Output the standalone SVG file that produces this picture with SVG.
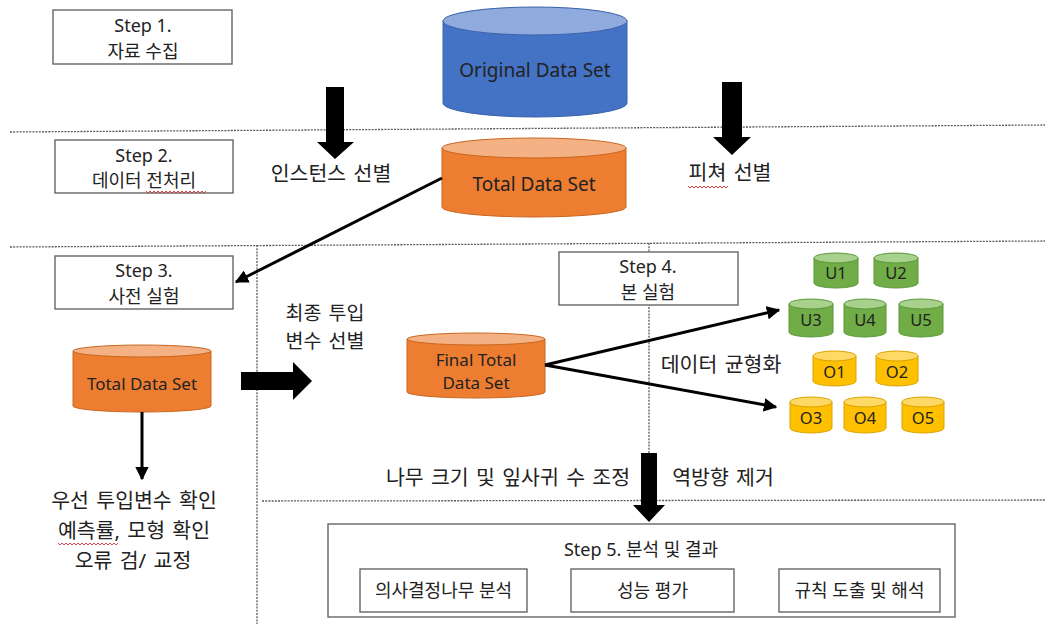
<svg xmlns="http://www.w3.org/2000/svg" width="1045" height="624" viewBox="0 0 1045 624">
  <defs>
    <style>
      text { font-family: "Noto Sans", "Noto Sans CJK KR", sans-serif; fill: #222; text-anchor: middle; }
      .lbl { font-size: 18px; }
      .big { font-size: 20.5px; word-spacing: 2px; }
      .cyl { font-size: 17px; }
      .sm { font-size: 16.5px; }
      .s5 { font-size: 18px; }
      .box { fill: #fff; stroke: #666; stroke-width: 1.4; }
      .dot { fill: none; stroke: #5a5a5a; stroke-width: 1.3; stroke-dasharray: 2 1.2; }
      .conn { fill: none; stroke: #000; stroke-width: 3; }
      .block { fill: #000; }
      .squig { fill: none; stroke: #e03030; stroke-width: 0.9; }
      .blue-b { fill: #4472C4; stroke: #3a62aa; stroke-width: 1; }
      .blue-t { fill: #8FAADC; stroke: #3a62aa; stroke-width: 1; }
      .org-b { fill: #ED7D31; stroke: #c8661f; stroke-width: 1; }
      .org-t { fill: #F4B183; stroke: #c8661f; stroke-width: 1; }
      .grn-b { fill: #70AD47; stroke: #5a9638; stroke-width: 1; }
      .grn-t { fill: #A9D18E; stroke: #5a9638; stroke-width: 1; }
      .yel-b { fill: #FFC000; stroke: #d9a300; stroke-width: 1; }
      .yel-t { fill: #FFD966; stroke: #d9a300; stroke-width: 1; }
    </style>
    <marker id="ah" viewBox="0 0 10 10" refX="9" refY="5" markerWidth="4.5" markerHeight="4.5" orient="auto" markerUnits="strokeWidth">
      <path d="M0,0 L10,5 L0,10 z" fill="#000"/>
    </marker>
  </defs>

  <rect width="1045" height="624" fill="#fff"/>

  <!-- stage separators -->
  <g id="separators">
    <line class="dot" x1="10" y1="132" x2="1045" y2="125"/>
    <line class="dot" x1="10" y1="247" x2="1045" y2="241"/>
    <line class="dot" x1="257" y1="245" x2="257" y2="624"/>
    <line class="dot" x1="262" y1="501" x2="1045" y2="500"/>
    <line class="dot" x1="649" y1="243" x2="649" y2="455"/>
  </g>

  <!-- step labels -->
  <g id="step1">
    <rect class="box" x="53" y="10" width="179" height="54"/>
    <text class="lbl"><tspan x="143" y="32">Step 1.</tspan><tspan x="143" dy="25.5">자료 수집</tspan></text>
  </g>
  <g id="step2">
    <rect class="box" x="55" y="140" width="178" height="53"/>
    <text class="lbl"><tspan x="144" y="161.5">Step 2.</tspan><tspan x="144" dy="25.5">데이터 전처리</tspan></text>
    <path class="squig" d="M146,191 l2,2 l2,-2 l2,2 l2,-2 l2,2 l2,-2 l2,2 l2,-2 l2,2 l2,-2 l2,2 l2,-2 l2,2 l2,-2 l2,2 l2,-2 l2,2 l2,-2 l2,2 l2,-2 l2,2 l2,-2 l2,2 l2,-2 l2,2 l2,-2 l2,2 l2,-2 l2,2 l2,-2"/>
  </g>
  <g id="step3">
    <rect class="box" x="55" y="256" width="178" height="53"/>
    <text class="lbl"><tspan x="144" y="277">Step 3.</tspan><tspan x="144" dy="25.5">사전 실험</tspan></text>
  </g>
  <g id="step4">
    <rect class="box" x="559" y="252" width="179" height="53"/>
    <text class="lbl"><tspan x="648" y="273">Step 4.</tspan><tspan x="648" dy="25.5">본 실험</tspan></text>
  </g>

  <!-- data stores -->
  <g id="original-data">
    <path class="blue-b" d="M443,21 V103 A92,14 0 0 0 627,103 V21 Z"/>
    <ellipse class="blue-t" cx="535" cy="21" rx="92" ry="14"/>
    <text x="535" y="77" style="font-size:19px">Original Data Set</text>
  </g>
  <g id="total-data">
    <path class="org-b" d="M442,148 V207 A92,10 0 0 0 626,207 V148 Z"/>
    <ellipse class="org-t" cx="534" cy="148" rx="92" ry="10"/>
    <text x="534" y="191" style="font-size:19px">Total Data Set</text>
  </g>
  <g id="total-data-step3">
    <path class="org-b" d="M73,351 V406 A69,6 0 0 0 211,406 V351 Z"/>
    <ellipse class="org-t" cx="142" cy="351" rx="69" ry="6"/>
    <text class="cyl" x="142" y="390">Total Data Set</text>
  </g>
  <g id="final-data">
    <path class="org-b" d="M407,339 V392 A69,6 0 0 0 545,392 V339 Z"/>
    <ellipse class="org-t" cx="476" cy="339" rx="69" ry="6"/>
    <text class="cyl"><tspan x="476" y="365.5">Final Total</tspan><tspan x="476" dy="23.5">Data Set</tspan></text>
  </g>

  <!-- balanced subsets -->
  <g id="u1"><path class="grn-b" d="M814,258 V283 A22,5 0 0 0 858,283 V258 Z"/><ellipse class="grn-t" cx="836" cy="258" rx="22" ry="5"/><text class="sm" x="836" y="279">U1</text></g>
  <g id="u2"><path class="grn-b" d="M874,258 V283 A22,5 0 0 0 918,283 V258 Z"/><ellipse class="grn-t" cx="896" cy="258" rx="22" ry="5"/><text class="sm" x="896" y="279">U2</text></g>
  <g id="u3"><path class="grn-b" d="M789,304 V332 A22,5 0 0 0 833,332 V304 Z"/><ellipse class="grn-t" cx="811" cy="304" rx="22" ry="5"/><text class="sm" x="811" y="326">U3</text></g>
  <g id="u4"><path class="grn-b" d="M844,304 V332 A21,5 0 0 0 886,332 V304 Z"/><ellipse class="grn-t" cx="865" cy="304" rx="21" ry="5"/><text class="sm" x="865" y="326">U4</text></g>
  <g id="u5"><path class="grn-b" d="M899,304 V332 A22,5 0 0 0 943,332 V304 Z"/><ellipse class="grn-t" cx="921" cy="304" rx="22" ry="5"/><text class="sm" x="921" y="326">U5</text></g>
  <g id="o1"><path class="yel-b" d="M813,356 V381 A21.5,5 0 0 0 856,381 V356 Z"/><ellipse class="yel-t" cx="834.5" cy="356" rx="21.5" ry="5"/><text class="sm" x="834.5" y="378">O1</text></g>
  <g id="o2"><path class="yel-b" d="M876,356 V381 A21,5 0 0 0 918,381 V356 Z"/><ellipse class="yel-t" cx="897" cy="356" rx="21" ry="5"/><text class="sm" x="897" y="378">O2</text></g>
  <g id="o3"><path class="yel-b" d="M790,402 V428 A21,5 0 0 0 832,428 V402 Z"/><ellipse class="yel-t" cx="811" cy="402" rx="21" ry="5"/><text class="sm" x="811" y="424">O3</text></g>
  <g id="o4"><path class="yel-b" d="M844,402 V428 A21,5 0 0 0 886,428 V402 Z"/><ellipse class="yel-t" cx="865" cy="402" rx="21" ry="5"/><text class="sm" x="865" y="424">O4</text></g>
  <g id="o5"><path class="yel-b" d="M902,402 V428 A21,5 0 0 0 944,428 V402 Z"/><ellipse class="yel-t" cx="923" cy="402" rx="21" ry="5"/><text class="sm" x="923" y="424">O5</text></g>

  <!-- free-standing labels -->
  <g id="notes">
    <text class="big" x="331" y="181">인스턴스 선별</text>
    <text class="big" x="730" y="180">피쳐 선별</text>
    <path class="squig" d="M688,186 l2,2 l2,-2 l2,2 l2,-2 l2,2 l2,-2 l2,2 l2,-2 l2,2 l2,-2 l2,2 l2,-2 l2,2 l2,-2 l2,2 l2,-2 l2,2 l2,-2 l2,2 l2,-2"/>
    <text class="big" style="font-size:19.5px"><tspan x="325" y="320">최종 투입</tspan><tspan x="325" dy="28">변수 선별</tspan></text>
    <text class="big" x="721" y="372">데이터 균형화</text>
    <text class="big" x="508" y="485">나무 크기 및 잎사귀 수 조정</text>
    <text class="big" x="723" y="485">역방향 제거</text>
    <text class="big"><tspan x="134" y="508">우선 투입변수 확인</tspan><tspan x="134" dy="30">예측률, 모형 확인</tspan><tspan x="133" dy="30">오류 검/ 교정</tspan></text>
    <path class="squig" d="M58,543 l2,2 l2,-2 l2,2 l2,-2 l2,2 l2,-2 l2,2 l2,-2 l2,2 l2,-2 l2,2 l2,-2 l2,2 l2,-2 l2,2 l2,-2 l2,2 l2,-2 l2,2 l2,-2 l2,2 l2,-2 l2,2 l2,-2 l2,2 l2,-2 l2,2 l2,-2 l2,2 l2,-2"/>
  </g>

  <!-- step 5 results -->
  <g id="step5">
    <rect class="box" x="328" y="524" width="627" height="93"/>
    <text class="s5" x="641" y="556">Step 5. 분석 및 결과</text>
    <rect class="box" x="360" y="569" width="167" height="43"/>
    <text class="s5" x="443.5" y="597">의사결정나무 분석</text>
    <rect class="box" x="571" y="569" width="163" height="43"/>
    <text class="s5" x="652.5" y="597">성능 평가</text>
    <rect class="box" x="779" y="569" width="161" height="43"/>
    <text class="s5" x="859.5" y="597">규칙 도출 및 해석</text>
  </g>

  <!-- connectors -->
  <g id="connectors">
    <polygon class="block" points="326,87 344,87 344,142 354,142 335,159 317,142 326,142"/>
    <polygon class="block" points="722,82 742,82 742,137 751,137 732,155 713,137 722,137"/>
    <polygon class="block" points="241,372 293,372 293,362 312,381 293,400 293,390 241,390"/>
    <polygon class="block" points="641,453 657,453 657,505 665,505 649,522 633,505 641,505"/>
    <line class="conn" x1="442" y1="178" x2="236" y2="282" marker-end="url(#ah)"/>
    <line class="conn" x1="142" y1="412" x2="142" y2="479" stroke-width="2.5" marker-end="url(#ah)"/>
    <line class="conn" x1="545" y1="365" x2="779" y2="310" marker-end="url(#ah)"/>
    <line class="conn" x1="545" y1="365" x2="776" y2="407" marker-end="url(#ah)"/>
  </g>
</svg>
